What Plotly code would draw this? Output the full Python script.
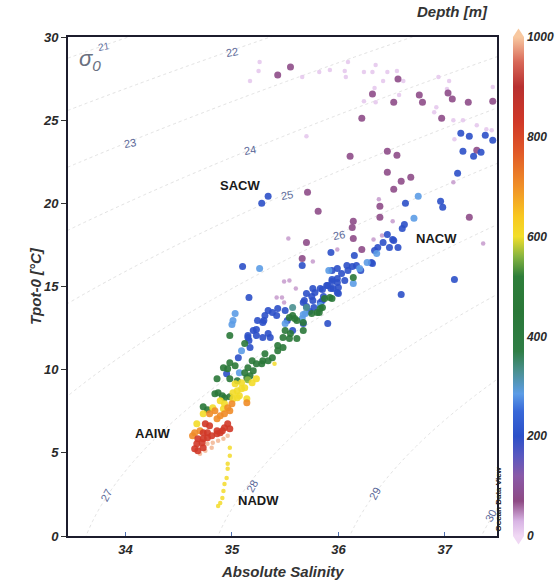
import numpy as np
import plotly.graph_objects as go

# ---------------- data (Absolute Salinity, potential temperature) ----------------
# large dots, grouped by depth colour
purple_S = [35.43,35.55,36.56,36.32,36.52,36.76,36.79,37.03,37.07,37.22,37.45,36.22,36.97,36.11,36.46,36.55,
            36.46,36.59,36.68,36.52,35.71,36.39,35.81,36.39,36.14,36.13,36.14,35.70,36.22,37.23,35.66,37.30]
purple_T = [27.71,28.19,27.47,26.57,26.08,26.51,26.08,26.63,26.27,26.08,26.14,25.12,25.12,22.83,23.13,22.89,
            21.87,21.33,21.57,20.84,20.66,19.82,19.52,19.16,18.92,18.55,17.89,17.65,17.23,19.16,16.69,23.19]
blue_S = [37.15,37.23,37.38,37.45,37.17,37.27,37.34,37.12,37.09,36.59,36.96,36.98,36.63,36.60,36.62,35.28,35.34,
          36.46,36.51,36.48,36.56,36.37,36.34,36.15,36.31,36.17,36.13,36.08,35.99,36.06,35.99,35.99,36.42,36.52,
          35.93,35.94,36.09,36.21,36.32,35.66,35.10,36.03,35.99,35.94,35.89,35.85,36.00,35.78,35.70,35.68,35.76,
          35.85,35.52,35.42,35.43,35.31,35.29,35.24,35.20,35.23,35.23,35.15,35.16,35.17,35.06,35.57,34.95,35.16,
          35.75,35.83,35.86,35.93,35.94,35.83,35.67,35.70,35.77,35.73,35.50,35.38,35.34,35.30,35.34,35.15,35.29,
          35.36,35.67,35.76,35.95,36.00,35.90,35.90]
blue_T = [24.22,24.04,24.10,23.80,23.13,22.83,23.07,21.81,15.42,14.52,20.12,19.76,20.00,18.49,18.73,20.00,20.42,
          18.13,17.83,17.35,17.35,17.35,17.17,16.87,16.45,16.27,16.20,16.27,16.08,15.36,15.48,14.64,17.65,17.77,
          17.05,15.96,15.96,15.96,16.39,16.27,16.20,15.78,15.24,15.42,15.06,14.82,14.58,14.64,14.58,14.16,14.16,
          14.16,12.95,13.25,13.67,13.25,12.83,12.95,12.35,12.41,12.05,12.05,11.75,11.33,10.72,12.35,9.76,14.34,
          14.40,14.88,14.40,14.88,15.30,14.04,14.04,13.80,13.73,13.49,13.55,13.43,13.55,12.95,12.17,11.93,11.93,
          11.93,12.77,14.88,14.88,14.94,15.06,12.77]
lblue_S = [36.75,36.71,36.36,36.27,36.20,36.14,35.26,35.83,35.69,35.66,35.50,35.09,35.03,35.01,35.07,35.91,35.67,35.00]
lblue_T = [20.42,19.10,16.99,16.45,16.08,15.18,16.08,13.86,13.37,13.07,12.77,11.14,13.37,12.95,9.82,15.96,13.31,12.71]
teal_S = [35.70,35.57]
teal_T = [13.73,13.73]
green_S = [36.14,35.94,35.80,35.75,35.67,35.61,35.57,35.12,34.98,35.61,35.54,35.48,35.48,35.43,35.43,35.38,35.31,
           35.29,35.28,35.34,35.23,35.19,35.20,35.15,35.17,35.14,35.12,35.03,34.98,34.96,34.98,34.92,34.86,35.05,
           34.84,34.87,34.91,34.93,34.98,34.73,34.77,35.87,35.92,35.85,35.82,35.54,35.59,35.50,35.55,35.67,35.83]
green_T = [15.54,14.28,13.43,13.37,12.83,12.95,13.25,11.57,12.05,11.87,11.87,11.93,11.33,11.45,11.14,10.72,10.96,
           10.54,10.36,10.54,10.36,10.54,9.94,10.12,9.64,9.52,9.82,10.24,10.42,10.06,9.46,10.12,9.46,9.34,
           8.55,8.61,8.43,8.31,8.37,7.77,7.59,14.28,14.34,13.73,13.43,13.13,13.07,12.35,12.17,12.35,13.67]
lgreen_S = [35.15]
lgreen_T = [9.40]
yellow_S = [35.03,35.09,35.19,35.23,35.01,35.05,35.09,35.12,35.07,35.05,35.01,34.93,35.14,34.89,34.82,34.92,34.73,34.67]
yellow_T = [9.16,9.22,9.22,9.46,8.61,8.73,8.86,8.92,8.43,8.31,8.25,7.95,8.25,8.13,7.71,7.65,7.35,6.75]
orange_S = [35.14,34.84,34.96,35.00,34.98,34.93,34.89,34.86,34.79,34.70,34.65,34.63]
orange_T = [8.01,7.53,7.71,7.95,7.53,7.35,7.23,7.05,7.35,6.33,6.20,6.02]
red_S = [34.75,34.79,34.73,34.77,34.81,34.86,34.89,34.93,34.96,34.98,34.91,34.86,34.77,34.73,34.68,34.67,34.65,34.68,34.73,34.72]
red_T = [6.75,6.63,6.20,6.20,6.02,6.14,6.20,6.51,6.75,6.45,6.33,6.33,5.90,5.84,5.84,5.54,5.24,5.12,5.30,5.60]

# small dots
surf_S = [35.26,35.25,35.17,35.66,35.82,35.92,36.06,36.07,36.09,36.24,36.32,36.35,36.46,36.55,36.42,36.61,36.34,
          36.35,36.24,36.57,36.94,37.04,37.02,36.92,36.90,37.08,37.17,37.09,35.70,37.30,37.39,37.44,37.45]
surf_T = [28.49,27.95,27.35,27.59,27.89,28.01,27.95,27.59,28.49,27.89,27.89,28.31,27.89,27.95,27.35,27.35,26.93,
          26.08,26.14,26.51,27.59,27.35,26.87,25.78,25.48,25.00,25.00,23.86,24.04,24.70,24.46,24.40,26.99]
lpurp_S = [36.38,36.33,37.36,35.99,35.76,35.53,35.49,35.54,35.60,35.42,35.47,35.49,36.51,36.41,37.08]
lpurp_T = [20.24,17.83,17.59,17.23,16.51,17.89,15.30,15.36,14.88,14.34,14.34,14.04,18.92,18.07,21.27]
deep_S = [34.77,34.82,34.87,34.92,34.96,34.75,34.70,34.81]
deep_T = [5.54,5.60,5.72,5.84,6.02,5.12,4.94,5.30]
nadw_S = [35.40,34.98,34.96,34.96,34.95,34.93,34.92,34.91,34.98,34.89,34.87]
nadw_T = [10.36,5.30,4.34,4.04,3.49,3.13,2.71,2.29,4.82,1.99,1.81]

# representative depth (m) of each colour group
big_groups = [(purple_S, purple_T, 75), (blue_S, blue_T, 200), (lblue_S, lblue_T, 285), (teal_S, teal_T, 330),
              (green_S, green_T, 450), (lgreen_S, lgreen_T, 560), (yellow_S, yellow_T, 605),
              (orange_S, orange_T, 705), (red_S, red_T, 830)]
small_groups = [(surf_S, surf_T, 15), (lpurp_S, lpurp_T, 40), (deep_S, deep_T, 990), (nadw_S, nadw_T, 605)]

sigma_levels = [21, 22, 23, 24, 25, 26, 27, 28, 29, 30]
sigma_label_pos = {21: (33.80, 29.45), 22: (35.00, 29.10), 23: (34.04, 23.61), 24: (35.17, 23.19),
                   25: (35.52, 20.48), 26: (36.01, 18.07), 27: (33.82, 2.47), 28: (35.19, 3.01),
                   29: (36.34, 2.53), 30: (37.43, 1.20)}
water_masses = [("SACW", 35.08, 21.10), ("NACW", 36.92, 17.89), ("AAIW", 34.25, 6.14), ("NADW", 35.25, 2.11)]
cbar_ticks = [0, 200, 400, 600, 800, 1000]

# ---------------- density field (UNESCO EOS-80, p = 0) ----------------
def sigma0(S, T):
    rw = (999.842594 + 6.793952e-2*T - 9.095290e-3*T**2 + 1.001685e-4*T**3
          - 1.120083e-6*T**4 + 6.536332e-9*T**5)
    A = 0.824493 - 4.0899e-3*T + 7.6438e-5*T**2 - 8.2467e-7*T**3 + 5.3875e-9*T**4
    B = -5.72466e-3 + 1.0227e-4*T - 1.6546e-6*T**2
    return rw + A*S + B*S**1.5 + 4.8314e-4*S**2 - 1000.0

sg = np.linspace(33.3, 37.7, 160)
tg = np.linspace(-0.5, 30.5, 160)
SS, TT = np.meshgrid(sg, tg)
ZZ = sigma0(SS, TT)

colorscale = [[0.0, '#f0d8f4'], [0.03, '#d8b4e4'], [0.07, '#8e4a84'], [0.12, '#8a5aa8'], [0.16, '#5a58c0'],
              [0.2, '#2c50c8'], [0.25, '#3868d8'], [0.285, '#5c9ce6'], [0.33, '#4a9090'], [0.37, '#2f7e46'],
              [0.45, '#2a7838'], [0.52, '#2e7e3a'], [0.56, '#86b440'], [0.6, '#f2de2a'], [0.64, '#f8c820'],
              [0.7, '#f09028'], [0.77, '#e05828'], [0.83, '#d03828'], [0.9, '#b83030'], [0.95, '#d86858'],
              [1.0, '#f8c8a0']]

fig = go.Figure()
fig.add_trace(go.Contour(x=sg, y=tg, z=ZZ, contours=dict(start=21, end=30, size=1, coloring='none'),
                         line=dict(color='#e2e2e2', width=1, dash='dot'), showscale=False,
                         hoverinfo='skip', showlegend=False))

def build(groups):
    xs, ys, ds = [], [], []
    for s, t, d in groups:
        xs += s; ys += t; ds += [d]*len(s)
    return xs, ys, ds

xs, ys, ds = build(small_groups)
fig.add_trace(go.Scatter(x=xs, y=ys, mode='markers', showlegend=False,
                         marker=dict(size=4.5, color=ds, coloraxis='coloraxis', opacity=0.85, line_width=0)))
xb, yb, db = build(big_groups)
fig.add_trace(go.Scatter(x=xb, y=yb, mode='markers', showlegend=False,
                         marker=dict(size=7, color=db, coloraxis='coloraxis', opacity=0.9, line_width=0)))

FONT = "Liberation Sans, Arial, sans-serif"
bi = dict(family=FONT, size=13, color='#2a2a2a', weight='bold', style='italic')

ann = []
for lev in sigma_levels:
    sx, ty = sigma_label_pos[lev]
    ang = -62 if lev >= 27 else -10
    ann.append(dict(x=sx, y=ty, text=str(lev), showarrow=False, textangle=ang,
                    font=dict(family=FONT, size=10 if lev == 21 else 11, color='#5a6898')))
for name, sx, ty in water_masses:
    ann.append(dict(x=sx, y=ty, text=name, showarrow=False,
                    font=dict(family=FONT, size=13, color='#1a1a1a', weight='bold')))
ann.append(dict(x=33.67, y=28.6, text="σ<sub>0</sub>", showarrow=False,
                font=dict(family=FONT, size=22, color='#6a7080', style='italic')))
ann.append(dict(xref='paper', yref='paper', x=0.5, y=-0.092, yanchor='bottom', text="Absolute Salinity",
                showarrow=False, font=dict(family=FONT, size=15, color='#333', weight='bold', style='italic')))
ann.append(dict(xref='paper', yref='paper', x=-0.1, y=0.5, text="Tpot-0 [°C]", textangle=-90,
                showarrow=False, font=dict(family=FONT, size=15, color='#333', weight='bold', style='italic')))
ann.append(dict(xref='paper', yref='paper', x=(490-68)/429, y=1.03, xanchor='right', yanchor='bottom',
                text="Depth [m]", showarrow=False,
                font=dict(family=FONT, size=15, color='#333', weight='bold', style='italic')))
ann.append(dict(xref='paper', yref='paper', x=(505-68)/429, y=0.005, yanchor='bottom', text="Ocean Data View",
                textangle=-90, showarrow=False, font=dict(family=FONT, size=8, color='#222', weight='bold')))

cx0 = (513-68)/429; cx1 = (524-68)/429; cxm = (cx0+cx1)/2
shapes = [dict(type='path', xref='paper', yref='paper', path=f"M {cx0},1 L {cx1},1 L {cxm},1.017 Z",
               fillcolor='#f8c8a0', line_width=0),
          dict(type='path', xref='paper', yref='paper', path=f"M {cx0},0 L {cx1},0 L {cxm},-0.017 Z",
               fillcolor='#f0d8f4', line_width=0)]

fig.update_layout(
    width=560, height=582, margin=dict(l=68, r=63, t=37, b=46, autoexpand=False),
    paper_bgcolor='white', plot_bgcolor='white',
    font=dict(family=FONT),
    xaxis=dict(range=[33.46, 37.49], tickvals=[34, 35, 36, 37], ticks='inside', ticklen=4,
               tickcolor='#5070b0', showline=True, mirror=True, linewidth=2, linecolor='#1c1c2c',
               showgrid=False, zeroline=False, tickfont=bi),
    yaxis=dict(range=[0, 30], tickvals=[0, 5, 10, 15, 20, 25, 30], ticks='outside', ticklen=5,
               tickcolor='#333', showline=True, mirror=True, linewidth=2, linecolor='#1c1c2c',
               showgrid=False, zeroline=False, tickfont=bi),
    coloraxis=dict(cmin=0, cmax=1000, colorscale=colorscale,
                   colorbar=dict(x=cx0, xanchor='left', thickness=11, len=1, lenmode='fraction',
                                 y=0.5, yanchor='middle', tickvals=cbar_ticks, ticks='',
                                 xpad=0, ypad=0, outlinewidth=0,
                                 tickfont=dict(family=FONT, size=12, color='#2a2a2a',
                                               weight='bold', style='italic'))),
    annotations=ann, shapes=shapes,
)
fig.write_html("out.html")
